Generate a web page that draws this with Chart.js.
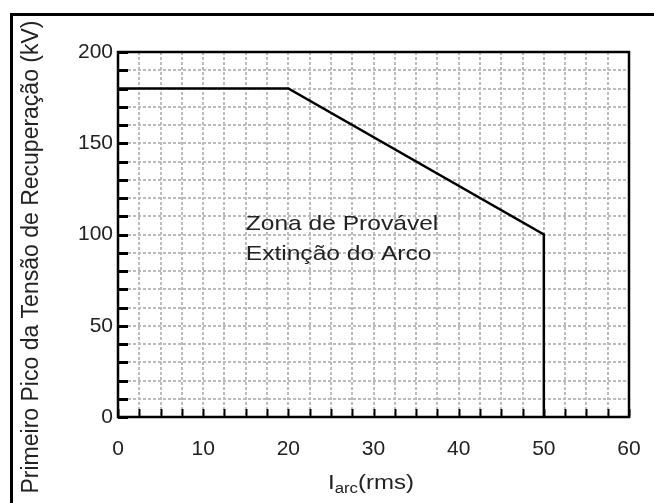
<!DOCTYPE html>
<html>
<head>
<meta charset="utf-8">
<script src="https://cdn.jsdelivr.net/npm/chart.js@4.4.0/dist/chart.umd.min.js"></script>
<style>
  html, body { margin:0; padding:0; background:#fff; overflow:hidden; }
  #wrap { position:relative; width:654px; height:503px; }
  #frame { position:absolute; left:10px; top:13px; width:700px; height:600px; border-top:3px solid #000; border-left:3px solid #000; pointer-events:none; }
  canvas { position:absolute; left:0; top:0; }
</style>
</head>
<body>
<div id="wrap">
  <canvas id="c" width="654" height="503"></canvas>
  <div id="frame"></div>
</div>
<script>
// Data
const currentArc = [0, 20, 50, 50];          // I_arc (rms)
const peakVoltage = [180, 180, 100, 0];      // kV
const xTickLabels = [0, 10, 20, 30, 40, 50, 60];
const yTickLabels = [0, 50, 100, 150, 200];
const yTitle = 'Primeiro Pico da Tensão de Recuperação (kV)';
const annotationLines = ['Zona de Provável', 'Extinção do Arco'];
const annotationAnchor = [15, 0]; // x value of text start

const FONT = '"Liberation Sans", Arial, sans-serif';

const inwardTicks = {
  id: 'inwardTicks',
  afterDatasetsDraw(chart) {
    const ctx = chart.ctx;
    const xs = chart.scales.x, ys = chart.scales.y;
    const a = chart.chartArea;
    ctx.save();
    ctx.strokeStyle = '#000';
    ys.ticks.forEach(t => {
      const py = Math.round(ys.getPixelForValue(t.value)) + 0.5;
      ctx.lineWidth = 3;
      ctx.beginPath(); ctx.moveTo(a.left, py); ctx.lineTo(a.left + 10, py); ctx.stroke();
    });
    xs.ticks.forEach(t => {
      const px = Math.round(xs.getPixelForValue(t.value)) + 0.5;
      ctx.lineWidth = 2;
      ctx.beginPath(); ctx.moveTo(px, a.bottom); ctx.lineTo(px, a.bottom - 8); ctx.stroke();
    });
    ctx.lineWidth = 2.5;
    ctx.strokeRect(a.left, a.top, a.right - a.left, a.bottom - a.top);
    ctx.restore();
  },
  afterDraw(chart) {
    const ctx = chart.ctx;
    const xs = chart.scales.x;
    ctx.save();
    ctx.fillStyle = '#222';
    const tx = xs.getPixelForValue(annotationAnchor[0]);
    ctx.save();
    ctx.translate(tx, 0);
    ctx.scale(1.17, 1);
    ctx.font = '21px ' + FONT;
    ctx.textBaseline = 'alphabetic';
    ctx.textAlign = 'left';
    ctx.fillText(annotationLines[0], 0, 230);
    ctx.fillText(annotationLines[1], 0, 260);
    ctx.restore();
    ctx.save();
    ctx.translate(328, 0);
    ctx.scale(1.2, 1);
    ctx.font = '20px ' + FONT;
    const wI = ctx.measureText('I').width;
    ctx.font = '14px ' + FONT;
    const wS = ctx.measureText('arc').width;
    ctx.font = '20px ' + FONT;
    ctx.fillText('I', 0, 489);
    ctx.font = '14px ' + FONT;
    ctx.fillText('arc', wI, 493);
    ctx.font = '20px ' + FONT;
    ctx.fillText('(rms)', wI + wS, 489);
    ctx.restore();
    ctx.translate(32, 257);
    ctx.rotate(-Math.PI / 2);
    ctx.font = '23px ' + FONT;
    ctx.textAlign = 'center';
    ctx.textBaseline = 'middle';
    ctx.fillText(yTitle, 0, 0);
    ctx.restore();
  }
};

new Chart(document.getElementById('c'), {
  type: 'line',
  data: {
    datasets: [{
      data: currentArc.map((x, i) => ({ x: x, y: peakVoltage[i] })),
      borderColor: '#000',
      borderWidth: 2.5,
      pointRadius: 0,
      fill: false,
      tension: 0
    }]
  },
  options: {
    responsive: false,
    animation: false,
    devicePixelRatio: 1,
    layout: { padding: { top: 52, right: 25, left: 0, bottom: 0 } },
    plugins: { legend: { display: false }, tooltip: { enabled: false } },
    scales: {
      x: {
        type: 'linear', min: 0, max: 60,
        afterFit(s) { s.height = 86; s.paddingLeft = 0; s.paddingRight = 0; },
        border: { display: false, dash: [3, 2] },
        grid: { color: '#bcbcbc', lineWidth: 2, drawTicks: false },
        ticks: {
          stepSize: 2.5, autoSkip: false, maxRotation: 0, padding: 20,
          color: '#222', font: { family: FONT, size: 21 },
          callback: v => xTickLabels.includes(v) ? String(v) : ''
        }
      },
      y: {
        type: 'linear', min: 0, max: 200,
        afterFit(s) { s.width = 118; s.paddingTop = 0; s.paddingBottom = 0; },
        border: { display: false, dash: [3, 2] },
        grid: { color: '#bcbcbc', lineWidth: 2, drawTicks: false },
        ticks: {
          stepSize: 10, autoSkip: false, padding: 5,
          color: '#222', font: { family: FONT, size: 21 },
          callback: v => yTickLabels.includes(v) ? String(v) : ''
        }
      }
    }
  },
  plugins: [inwardTicks]
});
</script>
</body>
</html>
